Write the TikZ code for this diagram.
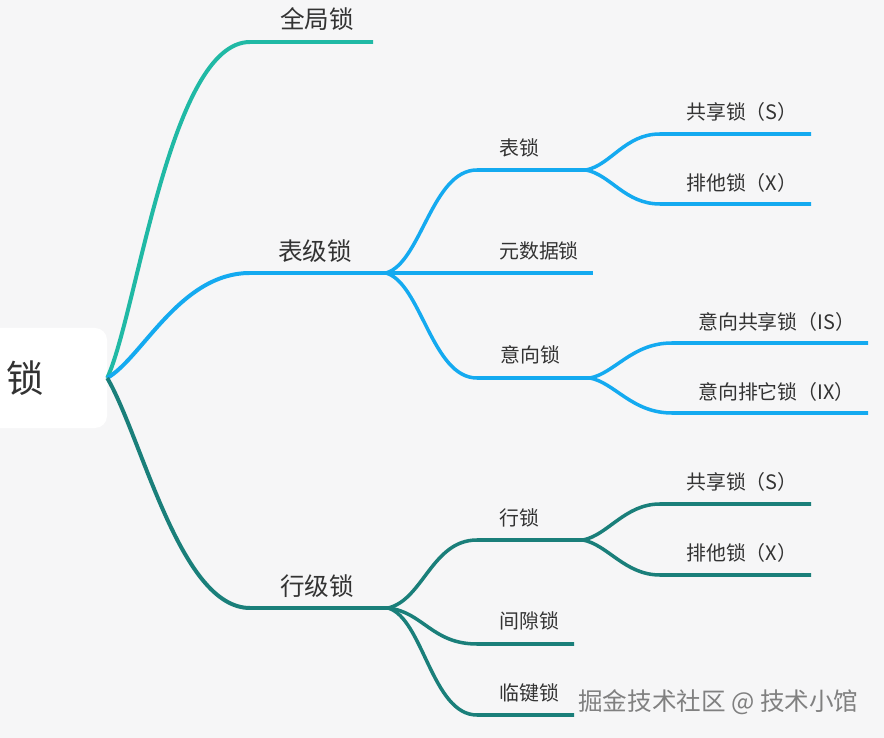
\documentclass[tikz,border=0pt]{standalone}
\usepackage{fontspec}
\newfontfamily\cjk{Noto Sans CJK SC}
\definecolor{bg}{HTML}{F6F6F7}
\definecolor{gteal}{HTML}{20B9A5}
\definecolor{skyb}{HTML}{14AAF0}
\definecolor{dteal}{HTML}{1A7F7A}
\definecolor{txt}{HTML}{333333}
\begin{document}
\begin{tikzpicture}[x=0.03cm, y=-0.03cm,
    trunk/.style={line width=3.4pt},
    twig/.style={line width=3pt},
    lbl/.style={anchor=west, inner sep=0pt, text=txt, text height=1.15em, text depth=0.1em,
                font=\cjk\fontsize{17}{17}\selectfont},
    biglbl/.style={lbl, font=\cjk\fontsize{21}{21}\selectfont}]
    \useasboundingbox (0,0) rectangle (884,738);
    \clip (0,0) rectangle (884,738);
    \fill[bg] (0,0) rectangle (884,738);

    % root
    \node[fill=white, rounded corners=0.36cm, minimum width=4.92cm, minimum height=3cm,
          text=txt, font=\cjk\fontsize{32}{32}\selectfont] (root) at (25,378) {锁};

    % first level
    \coordinate (qj) at (250,42);   \coordinate (qjE) at (373,42);
    \coordinate (bj) at (250,273);  \coordinate (bjS) at (386,273);
    \coordinate (hj) at (250,608);  \coordinate (hjS) at (388,608);

    \node[biglbl] (qjL) at (280,22) {全局锁};
    \node[biglbl] (bjL) at (278,254) {表级锁};
    \node[biglbl] (hjL) at (280,589) {行级锁};

    \draw[trunk, gteal] (root.east) .. controls +(30,-65) and +(-80,0) .. (qj) -- (qjE);
    \draw[trunk, skyb] (root.east) .. controls +(35,-20) and +(-70,0) .. (bj) -- (bjS);
    \draw[trunk, dteal] (root.east) .. controls +(35,60) and +(-70,0) .. (hj) -- (hjS);

    % table locks
    \coordinate (bs) at (477,170);  \coordinate (bsS) at (586,170);
    \coordinate (ysE) at (593,273);
    \coordinate (yx) at (477,378);  \coordinate (yxS) at (590,378);

    \node[lbl] (bsL) at (499,149) {表锁};
    \node[lbl] (ysL) at (499,252) {元数据锁};
    \node[lbl] (yxL) at (500,356) {意向锁};

    \draw[twig, skyb] (bjS) .. controls +(35,-10) and +(-45,0) .. (bs) -- (bsS);
    \draw[twig, skyb] (bjS) -- (ysE);
    \draw[twig, skyb] (bjS) .. controls +(35,10) and +(-45,0) .. (yx) -- (yxS);

    \coordinate (bs1) at (660,134); \coordinate (bs1E) at (811,134);
    \coordinate (bs2) at (660,204); \coordinate (bs2E) at (811,204);
    \coordinate (yx1) at (672,343); \coordinate (yx1E) at (868,343);
    \coordinate (yx2) at (672,413); \coordinate (yx2E) at (868,413);

    \node[lbl] (bs1L) at (686,113) {共享锁（S）};
    \node[lbl] (bs2L) at (686,184) {排他锁（X）};
    \node[lbl] (yx1L) at (698,323) {意向共享锁（IS）};
    \node[lbl] (yx2L) at (698,393) {意向排它锁（IX）};

    \draw[twig, skyb] (bsS) .. controls +(25,-5) and +(-35,0) .. (bs1) -- (bs1E);
    \draw[twig, skyb] (bsS) .. controls +(25,5) and +(-35,0) .. (bs2) -- (bs2E);
    \draw[twig, skyb] (yxS) .. controls +(25,-5) and +(-40,0) .. (yx1) -- (yx1E);
    \draw[twig, skyb] (yxS) .. controls +(25,5) and +(-40,0) .. (yx2) -- (yx2E);

    % row locks
    \coordinate (hs) at (477,540);  \coordinate (hsS) at (583,540);
    \coordinate (jx) at (477,644);  \coordinate (jxE) at (574,644);
    \coordinate (lj) at (477,715);  \coordinate (ljE) at (574,715);

    \node[lbl] (hsL) at (499,519) {行锁};
    \node[lbl] (jxL) at (499,622) {间隙锁};
    \node[lbl] (ljL) at (499,694) {临键锁};

    \draw[twig, dteal] (hjS) .. controls +(35,-8) and +(-45,0) .. (hs) -- (hsS);
    \draw[twig, dteal] (hjS) .. controls +(35,4) and +(-45,0) .. (jx) -- (jxE);
    \draw[twig, dteal] (hjS) .. controls +(35,10) and +(-45,0) .. (lj) -- (ljE);

    \coordinate (hs1) at (660,504); \coordinate (hs1E) at (811,504);
    \coordinate (hs2) at (660,575); \coordinate (hs2E) at (811,575);

    \node[lbl] (hs1L) at (686,483) {共享锁（S）};
    \node[lbl] (hs2L) at (686,554) {排他锁（X）};

    \draw[twig, dteal] (hsS) .. controls +(25,-5) and +(-35,0) .. (hs1) -- (hs1E);
    \draw[twig, dteal] (hsS) .. controls +(25,5) and +(-35,0) .. (hs2) -- (hs2E);

    % watermark
    \node[anchor=west, inner sep=0pt, text=black!50, font=\cjk\fontsize{21}{21}\selectfont]
        (wm) at (578,702) {掘金技术社区 @ 技术小馆};
\end{tikzpicture}
\end{document}
